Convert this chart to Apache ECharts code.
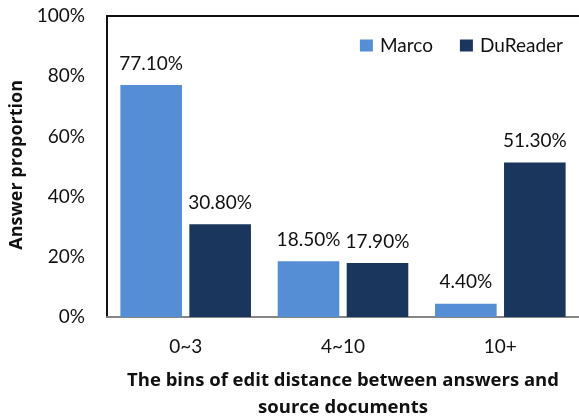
<!DOCTYPE html>
<html><head><meta charset="utf-8">
<script src="https://cdn.jsdelivr.net/npm/echarts@6/dist/echarts.min.js"></script>
<style>html,body{margin:0;padding:0;background:#fff}#c{width:579px;height:417px}</style>
</head><body><div id="c"></div>
<script>
const categories = ['0~3', '4~10', '10+'];
const marco = [77.1, 18.5, 4.4];
const dureader = [30.8, 17.9, 51.3];
const yTicks = [0, 20, 40, 60, 80, 100];
const F = 'Lato, "Open Sans", sans-serif';
const FB = '"Open Sans", Lato, sans-serif';
const chart = echarts.init(document.getElementById('c'));
const lbl = {show: true, position: 'top', distance: 12, color: '#111', fontSize: 19, fontFamily: F,
  formatter: p => p.value.toFixed(2) + '%'};
chart.setOption({
  animation: false,
  grid: {left: 107, right: 0, top: 16, bottom: 100, outerBoundsMode: 'none', containLabel: false},
  legend: {right: 11, top: 31, itemWidth: 13, itemHeight: 12, itemGap: 27, icon: 'rect',
    textStyle: {fontSize: 19, fontFamily: F, color: '#111', padding: [0, 0, 0, 2]}, data: ['Marco', 'DuReader']},
  xAxis: [{type: 'category', data: categories,
    axisLine: {lineStyle: {color: '#868686', width: 2}},
    axisTick: {inside: true, length: 5, lineStyle: {color: '#868686', width: 2}},
    axisLabel: {fontSize: 19, fontFamily: F, color: '#111', margin: 20},
    name: 'The bins of edit distance between answers and\nsource documents',
    nameLocation: 'middle', nameGap: 50,
    nameTextStyle: {fontSize: 18.5, fontWeight: 'bold', fontFamily: FB, color: '#111', lineHeight: 27}},
   {type: 'category', data: categories, position: 'top',
    axisLine: {lineStyle: {color: '#111', width: 2}}, axisTick: {show: false}, axisLabel: {show: false}}],
  yAxis: {type: 'value', min: 0, max: 100, interval: 20,
    axisLine: {show: true, lineStyle: {color: '#111', width: 2}}, axisTick: {show: false},
    splitLine: {show: false},
    axisLabel: {fontSize: 19, fontFamily: F, color: '#111', margin: 22,
      formatter: v => yTicks.includes(v) ? v + '%' : ''}},
  graphic: [{type: 'text', left: 8, top: 80, rotation: Math.PI / 2,
    style: {text: 'Answer proportion', fontSize: 18, fontWeight: 'bold', fontFamily: FB, fill: '#111'}}],
  series: [
    {name: 'Marco', type: 'bar', data: marco, barGap: '12%', barCategoryGap: '17%',
     itemStyle: {color: '#558ed5'}, label: lbl},
    {name: 'DuReader', type: 'bar', data: dureader,
     itemStyle: {color: '#1a365d'}, label: lbl}
  ]
});
</script></body></html>
